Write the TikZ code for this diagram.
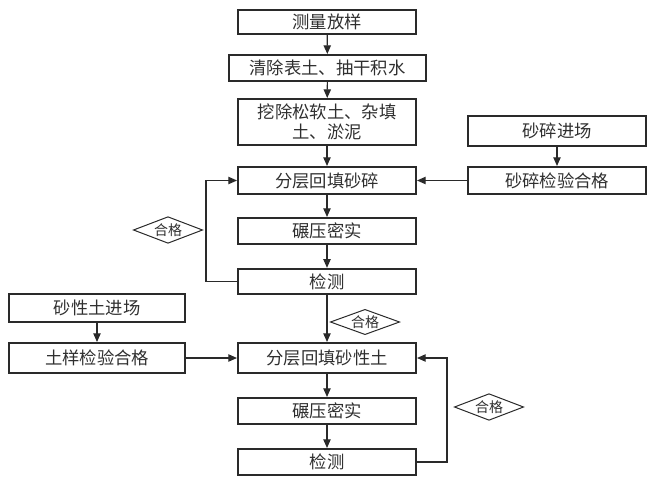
\documentclass[tikz,border=0pt]{standalone}
\usepackage{fontspec}
\setmainfont{Noto Sans CJK SC}
\usetikzlibrary{arrows.meta,shapes.geometric}
\definecolor{ln}{HTML}{2A2A2A}
\definecolor{tx}{HTML}{2F2F2F}
\begin{document}
\begin{tikzpicture}[x=0.75pt,y=-0.75pt,
  box/.style={draw=ln,line width=1.5pt,text=tx,font=\fontsize{13pt}{15.5pt}\selectfont,inner sep=0pt,align=center,minimum width=133.5pt},
  dia/.style={draw=ln,line width=0.75pt,diamond,aspect=2.5,inner sep=0pt,text=tx,font=\fontsize{10.5pt}{12pt}\selectfont,minimum width=52pt,minimum height=20pt},
  arr/.style={draw=ln,line width=0.9pt,-{Triangle[length=6.5pt,width=5.5pt]}},
  ln/.style={draw=ln,line width=0.9pt}]
\useasboundingbox (0,0) rectangle (648,477);
\node[box,minimum height=18pt] (n1) at (327,22) {测量放样};
\node[box,minimum width=147.75pt,minimum height=19.5pt] (n2) at (327.5,68) {清除表土、抽干积水};
\node[box,minimum height=34.5pt] (n3) at (327,122) {挖除松软土、杂填\\土、淤泥};
\node[box,minimum height=22.5pt] (s1) at (557,131) {砂碎进场};
\node[box,minimum height=20.25pt] (s2) at (557,180.5) {砂碎检验合格};
\node[box,minimum height=20.25pt] (n4) at (327,180.5) {分层回填砂碎};
\node[box,minimum height=19.5pt] (n5) at (327,231) {碾压密实};
\node[box,minimum height=19pt] (n6) at (327,281.5) {检测};
\node[dia] (d1) at (168,230) {合格};
\node[box,minimum width=132pt,minimum height=21pt] (t1) at (97,308) {砂性土进场};
\node[box,minimum width=132pt,minimum height=22.5pt] (t2) at (97,358) {土样检验合格};
\node[box,minimum height=22.5pt] (n7) at (327,358) {分层回填砂性土};
\node[dia,minimum height=19pt] (d2) at (365,322) {合格};
\node[box,minimum height=19.5pt] (n8) at (327,411) {碾压密实};
\node[box,minimum height=19.5pt] (n9) at (327,462) {检测};
\node[dia] (d3) at (489,407) {合格};
\coordinate (l1) at (206,281.5);
\coordinate (l2) at (206,180.5);
\coordinate (r1) at (447,462);
\coordinate (r2) at (447,358);
\draw[arr] (n1) -- (n2);
\draw[arr] (n2) -- (n3);
\draw[arr] (n3) -- (n4);
\draw[arr] (s1) -- (s2);
\draw[arr] (s2) -- (n4);
\draw[arr] (n4) -- (n5);
\draw[arr] (n5) -- (n6);
\draw[arr] (n6.west) -- (l1) -- (l2) -- (n4.west);
\draw[arr] (n6) -- (n7);
\draw[arr] (t1) -- (t2);
\draw[arr] (t2) -- (n7);
\draw[arr] (n7) -- (n8);
\draw[arr] (n8) -- (n9);
\draw[arr] (n9.east) -- (r1) -- (r2) -- (n7.east);
\end{tikzpicture}
\end{document}
